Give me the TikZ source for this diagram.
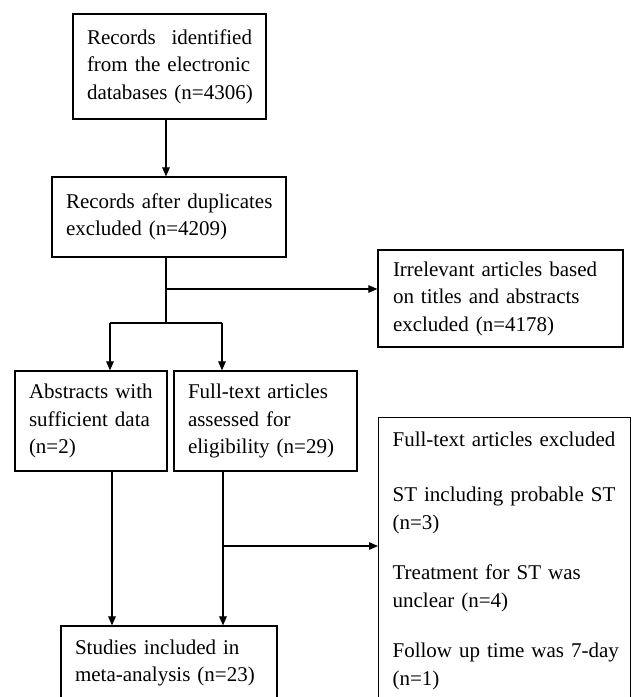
\documentclass[tikz,border=0pt]{standalone}
\usepackage{fontspec}
\setmainfont{Liberation Serif}
\usetikzlibrary{arrows.meta,calc}
\hfuzz=50pt
\hbadness=10000
\begin{document}
\begin{tikzpicture}[x=1pt,y=-1pt,
  box/.style={draw, line width=1.2pt, inner xsep=14pt, inner ysep=0pt, align=left,
              font=\fontsize{21pt}{27.5pt}\selectfont},
  arr/.style={line width=1.1pt, -{Triangle[length=9pt,width=7.5pt]}},
  ln/.style={line width=1.1pt}]
\clip (0,0) rectangle (632,697);
\fill[white] (0,0) rectangle (632,697);
% boxes
\node[box, minimum width=193pt, minimum height=105pt, text width=165pt] (b1) at (169.5,66.5)
  {Records\hfill identified\\ \mbox{from the electronic}\\ \mbox{databases (n=4306)}};
\node[box, minimum width=234pt, minimum height=80pt, text width=206pt] (b2) at (169,217)
  {\mbox{Records after duplicates}\\ \mbox{excluded (n=4209)}};
\node[box, inner xsep=15pt, minimum width=245pt, minimum height=97pt, text width=215pt] (b3) at (500.5,298.5)
  {\mbox{Irrelevant articles based}\\ \mbox{on titles and abstracts}\\ \mbox{excluded (n=4178)}};
\node[box, minimum width=152pt, minimum height=100pt, text width=124pt] (b4) at (91,421)
  {\mbox{Abstracts with}\\ \mbox{sufficient data}\\ (n=2)};
\node[box, minimum width=183pt, minimum height=100pt, text width=155pt] (b5) at (265.5,421)
  {\mbox{Full-text articles}\\ \mbox{assessed for}\\ \mbox{eligibility (n=29)}};
\node[box, minimum width=216pt, minimum height=74pt, text width=188pt] (b6) at (169,663)
  {\mbox{Studies included in}\\ \mbox{meta-analysis (n=23)}};
\node[box, anchor=north west, inner ysep=14pt, minimum width=252pt, text width=224pt,
      font=\fontsize{21pt}{28pt}\selectfont] (b7) at (378,417)
  {\mbox{Full-text articles excluded}\\[27pt]
   \mbox{ST including probable ST}\\ (n=3)\\[22pt]
   \mbox{Treatment for ST was}\\ \mbox{unclear (n=4)}\\[22pt]
   \mbox{Follow up time was 7-day}\\ (n=1)};
% junctions
\coordinate (j1) at (166,289);
\coordinate (j2) at (166,323);
\coordinate (jl) at (110,323);
\coordinate (jr) at (222,323);
\coordinate (d4) at (112,546);
\coordinate (j3) at (223,546);
% connectors
\draw[arr] (b1.south -| j1) -- (b2.north -| j1);
\draw[ln] (b2.south -| j1) -- (j2);
\draw[arr] (j1) -- (j1 -| b3.west);
\draw[ln] (jl) -- (jr);
\draw[arr] (jl) -- (jl |- b4.north);
\draw[arr] (jr) -- (jr |- b5.north);
\draw[arr] (b4.south -| d4) -- (b6.north -| d4);
\draw[arr] (b5.south -| j3) -- (b6.north -| j3);
\draw[arr] (j3) -- (j3 -| b7.west);
\end{tikzpicture}
\end{document}
